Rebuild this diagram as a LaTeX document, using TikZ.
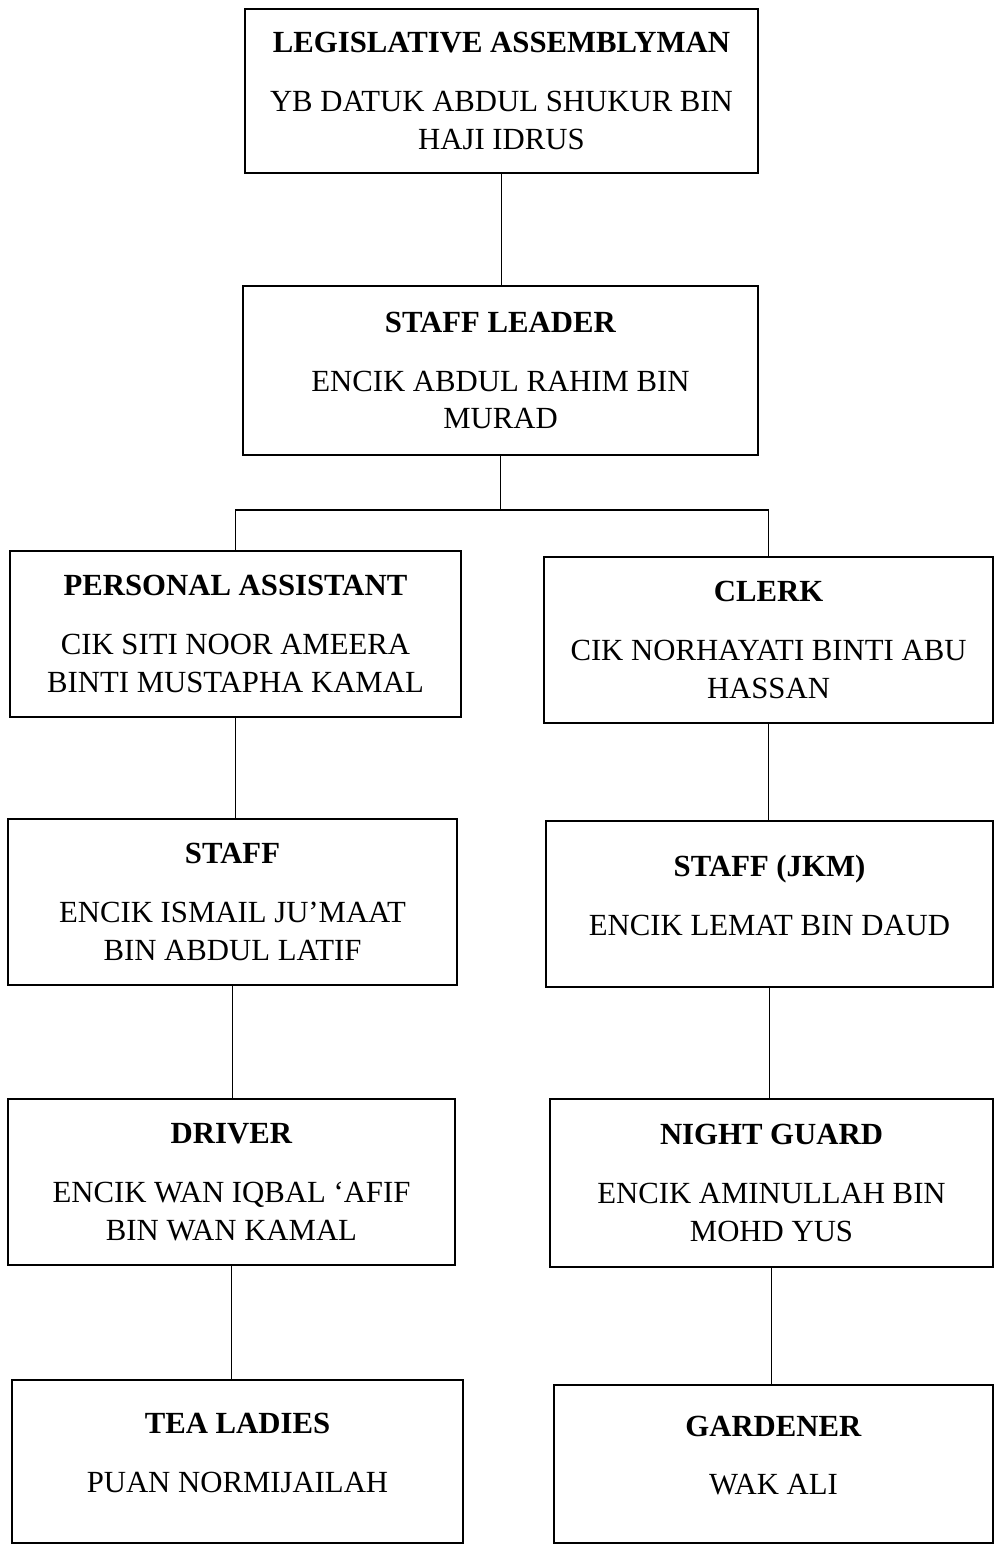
\documentclass[tikz,border=0pt]{standalone}
\usepackage{fontspec}
\setmainfont{Liberation Serif}
\usepackage{tikz}
\usetikzlibrary{positioning}

\begin{document}
\begin{tikzpicture}[x=0.02cm,y=-0.02cm,
	box/.style={draw,rectangle,line width=1.2pt,align=center,inner sep=0pt,
		font=\fontsize{17.5}{21.5}\selectfont},
	link/.style={line width=0.6pt},
	elbow/.style={to path={-| (\tikztotarget)}}]
	\useasboundingbox (0,0) rectangle (994,1544);

	\node[box,minimum width=10.26cm,minimum height=3.28cm] (adun) at (501.5,91)
		{\textbf{LEGISLATIVE ASSEMBLYMAN}\\[12pt]YB DATUK ABDUL SHUKUR BIN\\HAJI IDRUS};
	\node[box,minimum width=10.30cm,minimum height=3.38cm] (leader) at (500.5,370.5)
		{\textbf{STAFF LEADER}\\[12pt]ENCIK ABDUL RAHIM BIN\\MURAD};

	\node[box,minimum width=9.02cm,minimum height=3.32cm] (pa) at (235.5,634)
		{\textbf{PERSONAL ASSISTANT}\\[12pt]CIK SITI NOOR AMEERA\\BINTI MUSTAPHA KAMAL};
	\node[box,minimum width=8.98cm,minimum height=3.32cm] (clerk) at (768.5,640)
		{\textbf{CLERK}\\[12pt]CIK NORHAYATI BINTI ABU\\HASSAN};

	\node[box,minimum width=8.98cm,minimum height=3.32cm] (staff) at (232.5,902)
		{\textbf{STAFF}\\[12pt]ENCIK ISMAIL JU'MAAT\\BIN ABDUL LATIF};
	\node[box,minimum width=8.94cm,minimum height=3.32cm] (jkm) at (769.5,904)
		{\textbf{STAFF (JKM)}\\[12pt]ENCIK LEMAT BIN DAUD\\[-18pt]\strut};

	\node[box,minimum width=8.94cm,minimum height=3.32cm] (driver) at (231.5,1182)
		{\textbf{DRIVER}\\[12pt]ENCIK WAN IQBAL `AFIF\\BIN WAN KAMAL};
	\node[box,minimum width=8.86cm,minimum height=3.36cm] (guard) at (771.5,1183)
		{\textbf{NIGHT GUARD}\\[12pt]ENCIK AMINULLAH BIN\\MOHD YUS};

	\node[box,minimum width=9.02cm,minimum height=3.26cm] (tea) at (237.5,1461.5)
		{\textbf{TEA LADIES}\\[12pt]PUAN NORMIJAILAH\\[-18pt]\strut};
	\node[box,minimum width=8.78cm,minimum height=3.16cm] (gardener) at (773.5,1464)
		{\textbf{GARDENER}\\[12pt]WAK ALI\\[-18pt]\strut};

	\coordinate (fork) at (500.5,510);

	\path[link]
	(adun) edge (adun.south |- leader.north)
	(leader) edge (fork)
	(fork) edge[elbow] (pa)
	(fork) edge[elbow] (clerk)

	(pa.south) edge (pa.south |- staff.north)
	(staff.south) edge (staff.south |- driver.north)
	(driver.south) edge (driver.south |- tea.north)

	(clerk.south) edge (clerk.south |- jkm.north)
	(jkm.south) edge (jkm.south |- guard.north)
	(guard.south) edge (guard.south |- gardener.north)
	;
\end{tikzpicture}
\end{document}
